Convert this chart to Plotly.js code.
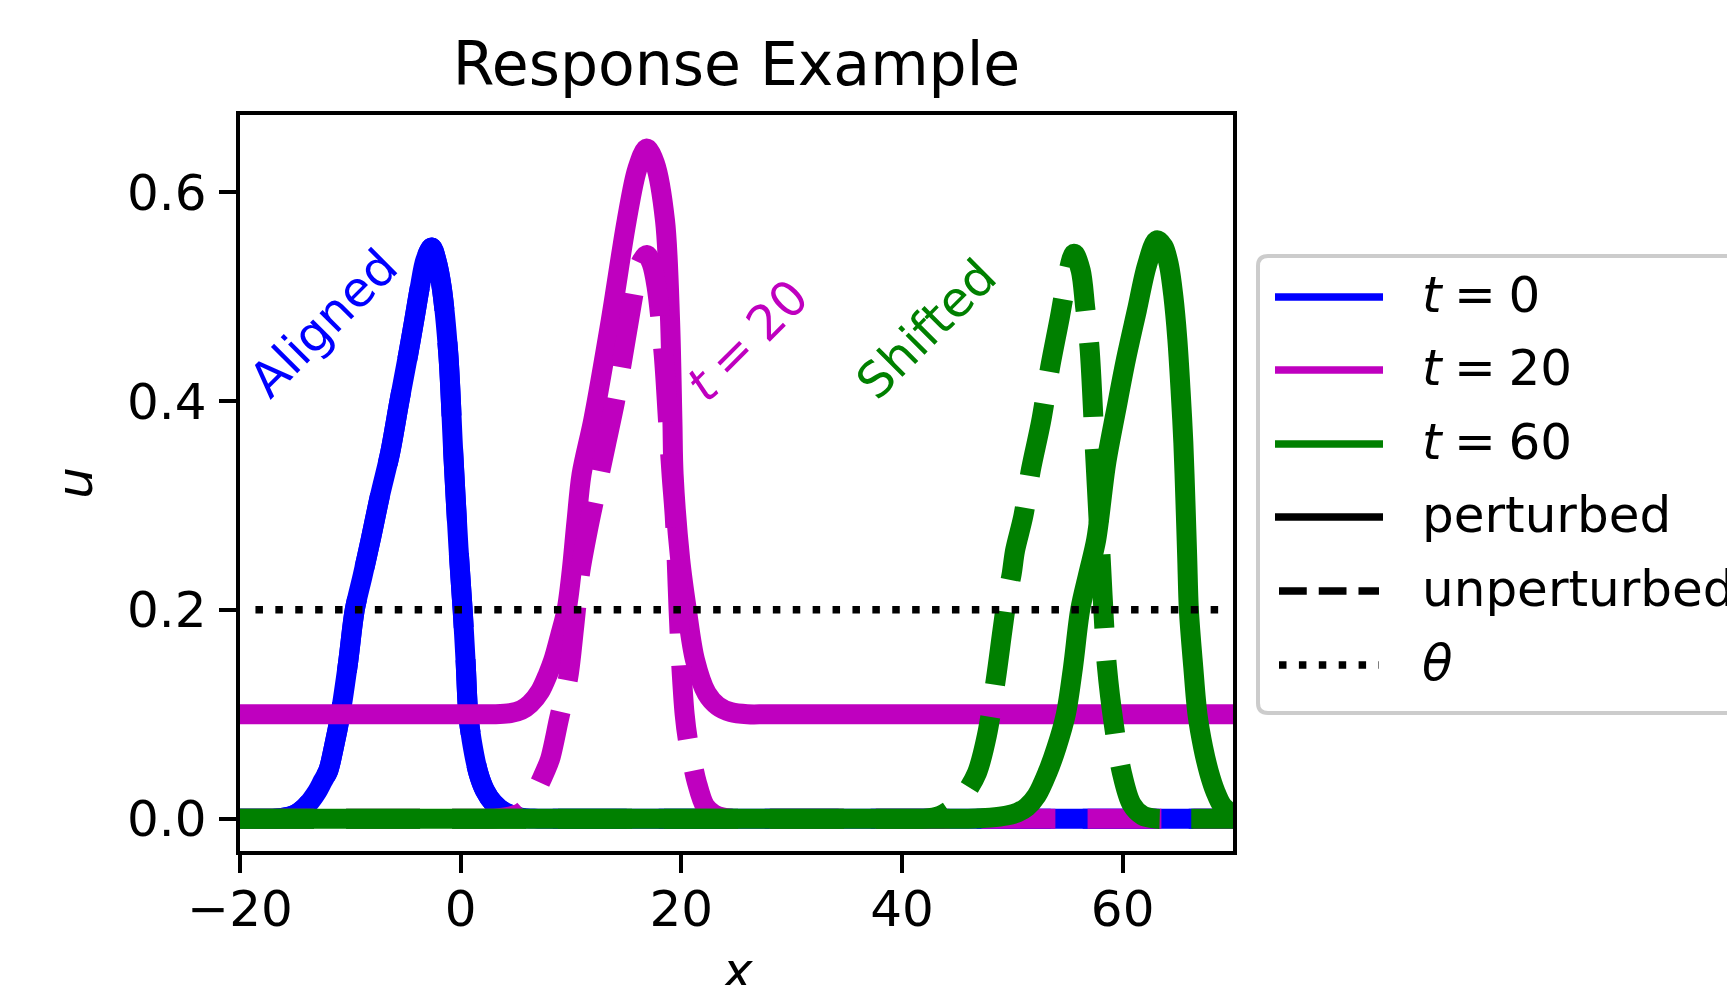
<!DOCTYPE html>
<html>
<head>
<meta charset="utf-8">
<script src="https://cdn.plot.ly/plotly-3.0.1.min.js"></script>
<style>
  html, body { margin: 0; padding: 0; background: #ffffff; }
  #chart { width: 1727px; height: 985px; }
  .js-line { stroke-linejoin: round !important; }
</style>
</head>
<body>
<div id="chart"></div>
<script>
// ---------------- data ----------------
// t = 0 (perturbed and unperturbed coincide: "Aligned")
const t0X = [-20,-18,-17,-16,-15,-14.2,-13.6,-13,-12.5,-12,-11.5,-10.9,-10.2,-9.6,-8.9,-8.16,-7.3,-6.4,-5.55,-4.75,-4.2,-3.7,-3.2,-2.63,-2.2,-1.72,-1.12,-0.67,-0.2,0.18,0.45,0.69,1.0,1.6,2.2,2.96,4.0,5.4,7,9,70];
const t0Y = [0,0,0,0.001,0.004,0.01,0.017,0.026,0.036,0.046,0.068,0.1,0.15,0.2,0.232,0.267,0.31,0.35,0.40,0.445,0.478,0.509,0.535,0.547,0.535,0.509,0.445,0.35,0.26,0.2,0.15,0.1,0.075,0.044,0.027,0.015,0.006,0.001,0,0,0];

// t = 20 perturbed
const t20PertX = [-20,1.5,3,4.5,5.5,6.3,7.2,7.9,8.4,9.0,9.6,10.06,10.5,10.96,12.02,13.6,15.05,16.0,16.86,17.6,18.52,18.98,19.19,19.3,19.9,20.5,21.24,22.3,23.3,24.5,26,28,70];
const t20PertY = [0.1,0.1,0.1,0.101,0.104,0.11,0.122,0.138,0.152,0.175,0.2,0.237,0.285,0.33,0.382,0.477,0.573,0.622,0.642,0.628,0.573,0.477,0.382,0.33,0.248,0.2,0.152,0.12,0.108,0.102,0.1,0.1,0.1];

// t = 20 unperturbed
const t20UnpX = [-20,1.5,3,4.5,5.5,6.3,7.0,7.6,8.1,8.9,9.76,10.3,10.82,11.6,12.4,13.2,14.0,14.74,15.3,15.8,16.3,16.86,17.3,17.75,18.4,18.8,19.13,19.4,19.58,19.75,20.0,20.3,20.6,20.94,21.4,22.15,23,24.5,26,70];
const t20UnpY = [0,0,0,0.002,0.006,0.015,0.03,0.044,0.057,0.095,0.136,0.185,0.235,0.28,0.32,0.36,0.40,0.445,0.48,0.51,0.532,0.54,0.532,0.51,0.445,0.38,0.3275,0.29,0.248,0.2,0.146,0.1,0.075,0.057,0.035,0.012,0.004,0,0,0];

// t = 60 perturbed
const t60PertX = [-20,44,46,48,49.5,50.5,51.3,52.2,53.18,54.0,54.85,55.5,56.15,56.9,57.6,58.5,59.4,60.3,61.29,62.2,63.1,63.7,64.2,64.6,64.95,65.25,65.5,65.7,65.85,66.0,66.4,66.78,67.3,67.84,68.4,69.05,70];
const t60PertY = [0,0,0,0.001,0.003,0.006,0.011,0.022,0.044,0.068,0.1,0.145,0.2,0.235,0.267,0.34,0.391,0.44,0.487,0.53,0.554,0.548,0.53,0.5,0.46,0.41,0.36,0.3,0.25,0.2,0.145,0.1,0.068,0.044,0.026,0.012,0.004];

// t = 60 unperturbed
const t60UnpX = [-20,40,42,43.5,44.8,45.8,46.8,47.7,48.5,49.1,49.5,49.95,50.25,51.0,51.68,52.6,53.43,54.3,55.0,55.6,56.2,56.6,56.99,57.5,57.9,58.05,58.3,58.57,59.2,59.93,60.8,61.8,63,65,70];
const t60UnpY = [0,0,0,0.003,0.012,0.025,0.044,0.08,0.133,0.18,0.21,0.235,0.257,0.29,0.334,0.38,0.4326,0.48,0.52,0.541,0.525,0.49,0.452,0.35,0.27,0.241,0.19,0.146,0.09,0.044,0.014,0.003,0,0,0];

// threshold theta
const thetaX = [-18.6, 68.9];
const thetaY = [0.2, 0.2];

// ticks
const xTickVals = [-20, 0, 20, 40, 60];
const xTickText = ["\u221220", "0", "20", "40", "60"];
const yTickVals = [0, 0.2, 0.4, 0.6];
const yTickText = ["0.0", "0.2", "0.4", "0.6"];

// legend labels
const legendLabels = ["<i>t</i>\u2005=\u20050", "<i>t</i>\u2005=\u200520", "<i>t</i>\u2005=\u200560", "perturbed", "unperturbed", "<i>\u03b8</i>"];

// curve labels
const labelTexts = ["Aligned", "<i>t</i>\u2005=\u200520", "Shifted"];
const labelX = [-12.4, 26.0, 42.2];
const labelY = [0.474, 0.458, 0.469];

// ---------------- styling ----------------
const BLUE = "#0000ff", MAG = "#bf00bf", GREEN = "#008000";
const FONT = "DejaVu Sans";
const LW = 20;
const DASH = "74px,32px";
const DOT = "7.5px,12.4px";

// plot-area pixel box
const PL = 240, PR = 1233, PT = 115, PB = 851, W = 1727, H = 985;
const px = v => (v - PL) / (PR - PL);
const py = v => (PB - v) / (PB - PT);

function tr(x, y, color, dash, width, linear) {
  return { x: x, y: y, type: "scatter", mode: "lines", showlegend: false, hoverinfo: "skip",
    line: { color: color, width: width || LW, dash: dash || "solid",
      shape: linear ? "linear" : "spline", smoothing: 0.9 } };
}

const traces = [
  tr(t0X, t0Y, BLUE, DASH),
  tr(t0X, t0Y, BLUE),
  tr(t20PertX, t20PertY, MAG),
  tr(t20UnpX, t20UnpY, MAG, DASH),
  tr(t60PertX, t60PertY, GREEN),
  tr(t60UnpX, t60UnpY, GREEN, DASH),
  tr(thetaX, thetaY, "#000000", DOT, 7.5, true)
];

// ---------------- manual legend (matplotlib style) ----------------
const shapes = [];
const annotations = [];
{
  const L = 1258, T = 256, B = 713, R = 1800, r = 10;
  const p = `M ${px(L)},${py(T + r)} Q ${px(L)},${py(T)} ${px(L + r)},${py(T)} L ${px(R)},${py(T)} L ${px(R)},${py(B)} L ${px(L + r)},${py(B)} Q ${px(L)},${py(B)} ${px(L)},${py(B - r)} Z`;
  shapes.push({ type: "path", xref: "paper", yref: "paper", path: p,
    line: { color: "#cccccc", width: 4 }, fillcolor: "#ffffff", layer: "above" });
  const rowsY = [297, 370, 444, 517, 591, 665];
  const cols = [BLUE, MAG, GREEN, "#000000", "#000000", "#000000"];
  const dashes = ["solid", "solid", "solid", "solid", "27.75px,12px", "7.5px,12.4px"];
  for (let i = 0; i < rowsY.length; i++) {
    const solid = dashes[i] === "solid";
    shapes.push({ type: "line", xref: "paper", yref: "paper",
      x0: px(solid ? 1275 : 1279), x1: px(solid ? 1383 : 1379), y0: py(rowsY[i]), y1: py(rowsY[i]),
      line: { color: cols[i], width: 7.5, dash: dashes[i] }, layer: "above" });
    annotations.push({ xref: "paper", yref: "paper", x: px(1420), y: py(rowsY[i] - 2),
      xanchor: "left", yanchor: "middle", showarrow: false, text: legendLabels[i],
      font: { family: FONT, size: 50, color: "#000000" } });
  }
}

// curve labels
const labelColors = [BLUE, MAG, GREEN];
for (let i = 0; i < labelTexts.length; i++) {
  annotations.push({ xref: "x", yref: "y", x: labelX[i], y: labelY[i], text: labelTexts[i],
    textangle: -45, showarrow: false, xanchor: "center", yanchor: "middle",
    font: { family: FONT, size: 49, color: labelColors[i] } });
}

// x-axis label (sits partly below the figure edge, as in the original)
annotations.push({ xref: "paper", yref: "paper", x: 0.5, y: py(971), text: "<i>x</i>",
  showarrow: false, xanchor: "center", yanchor: "middle",
  font: { family: FONT, size: 50, color: "#000000" } });

const axisCommon = {
  showline: true, linecolor: "#000000", linewidth: 4, mirror: true,
  ticks: "outside", ticklen: 17.5, tickwidth: 4, tickcolor: "#000000",
  showgrid: false, zeroline: false,
  tickfont: { family: FONT, size: 50, color: "#000000" }
};

const layout = {
  width: W, height: H,
  margin: { l: PL, r: W - PR, t: PT, b: H - PB, pad: 0 },
  paper_bgcolor: "#ffffff", plot_bgcolor: "#ffffff",
  showlegend: false,
  title: { text: "Response Example", font: { family: FONT, size: 60, color: "#000000" },
    x: 0.5, xref: "paper", xanchor: "center", y: 1 - 64 / H, yref: "container", yanchor: "middle" },
  xaxis: Object.assign({}, axisCommon, {
    range: [-20, 70], tickmode: "array", tickvals: xTickVals, ticktext: xTickText,
    ticklabelstandoff: -7
  }),
  yaxis: Object.assign({}, axisCommon, {
    range: [-0.031, 0.674], tickmode: "array", tickvals: yTickVals, ticktext: yTickText,
    ticklabelstandoff: 2,
    title: { text: "<i>u</i>", font: { family: FONT, size: 50, color: "#000000" }, standoff: 19 }
  }),
  shapes: shapes,
  annotations: annotations
};

Plotly.newPlot("chart", traces, layout, { displayModeBar: false, staticPlot: true });
</script>
</body>
</html>
